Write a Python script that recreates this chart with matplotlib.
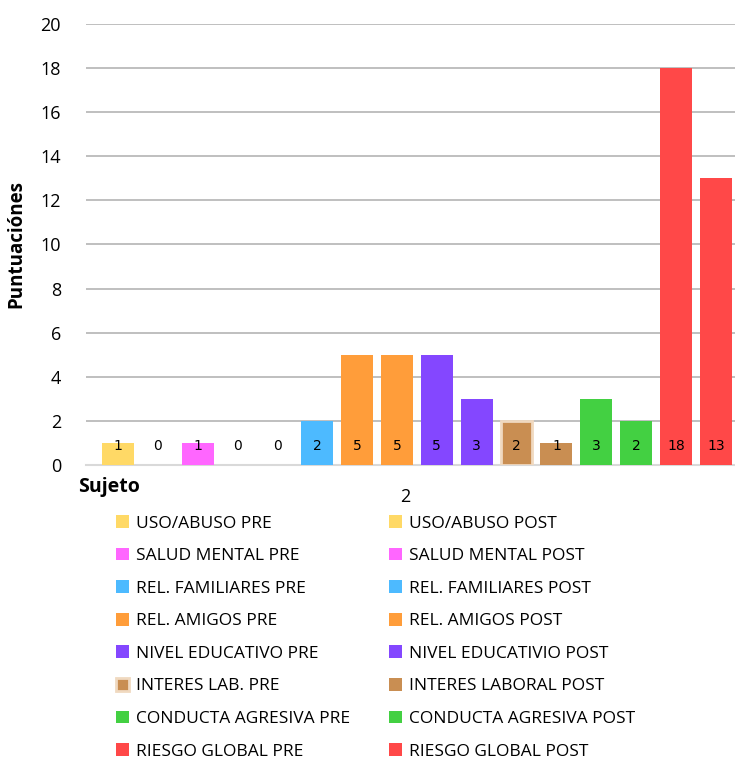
import matplotlib
matplotlib.use('Agg')
import matplotlib.pyplot as plt
from matplotlib.patches import Patch

plt.rcParams['font.family'] = ['Open Sans', 'DejaVu Sans']

series = ["USO/ABUSO PRE", "USO/ABUSO POST",
          "SALUD MENTAL PRE", "SALUD MENTAL POST",
          "REL. FAMILIARES PRE", "REL. FAMILIARES POST",
          "REL. AMIGOS PRE", "REL. AMIGOS POST",
          "NIVEL EDUCATIVO PRE", "NIVEL EDUCATIVIO POST",
          "INTERES LAB. PRE", "INTERES LABORAL POST",
          "CONDUCTA AGRESIVA PRE", "CONDUCTA AGRESIVA POST",
          "RIESGO GLOBAL PRE", "RIESGO GLOBAL POST"]
values = [1, 0, 1, 0, 0, 2, 5, 5, 5, 3, 2, 1, 3, 2, 18, 13]
colors = ["#FFD966", "#FFD966", "#FF66FF", "#FF66FF",
          "#4DBAFF", "#4DBAFF", "#FF9D3A", "#FF9D3A",
          "#8447FF", "#8447FF", "#C98E52", "#C98E52",
          "#43D042", "#43D042", "#FF4848", "#FF4848"]
category = "2"

fig = plt.figure(figsize=(7.35, 7.62), dpi=100)
ax = fig.add_axes([0.117, 0.3898, 0.883, 0.5787])

handles = []
for i, (name, v, c) in enumerate(zip(series, values, colors)):
    if name == "INTERES LAB. PRE":
        ax.bar(i, v, width=0.8, color=c, edgecolor="#F0D9C0", linewidth=2, zorder=3)
        h = Patch(facecolor=c, edgecolor="#F0D9C0", linewidth=2)
    else:
        ax.bar(i, v, width=0.8, color=c, zorder=3)
        h = Patch(facecolor=c)
    handles.append(h)
    ax.text(i, 0.86, str(v), ha='center', va='center', fontsize=10,
            family=['DejaVu Sans'], color='black', zorder=4)

ax.set_xlim(-0.8, 15.48)
ax.set_ylim(0, 20)
ax.set_yticks(range(0, 21, 2))
ax.set_xticks([])
ax.tick_params(axis='y', length=0, pad=18, labelsize=13)
ax.yaxis.grid(True, color="#B4B4B4", linewidth=1.2, zorder=0)
for s in ['top', 'right', 'left']:
    ax.spines[s].set_visible(False)
ax.spines['bottom'].set_color("#D9D9D9")
ax.spines['bottom'].set_linewidth(1.5)

ax.set_ylabel("Puntuaciónes", fontsize=13.5, fontweight='bold', labelpad=10)
fig.text(78 / 735, 1 - 487 / 762, "Sujeto", fontsize=14, fontweight='bold',
         ha='left', va='center')
fig.text(405 / 735, 1 - 497 / 762, category, fontsize=13, ha='center', va='center')

order = list(range(0, 16, 2)) + list(range(1, 16, 2))
leg = fig.legend([handles[i] for i in order], [series[i] for i in order],
                 ncol=2, loc='upper left', bbox_to_anchor=(0.149, 0.333),
                 frameon=False, fontsize=12.5, handlelength=0.75, handleheight=0.75,
                 handletextpad=0.4, labelspacing=0.93, columnspacing=2.2,
                 borderaxespad=0.0)

fig.savefig("out.png", dpi=100)
